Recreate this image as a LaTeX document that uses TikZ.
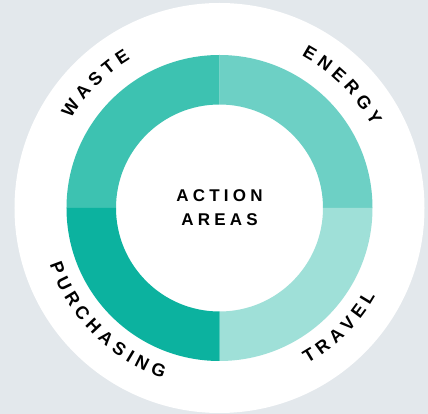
\documentclass[tikz,border=0pt]{standalone}
\usepackage{fontspec}
\setmainfont{Liberation Sans}
\usepackage{tikz}
\usetikzlibrary{decorations.text}
\definecolor{backgray}{HTML}{E3E8EC}
\definecolor{wastecol}{HTML}{3DC2B1}
\definecolor{energycol}{HTML}{6DD0C5}
\definecolor{travelcol}{HTML}{9FE0D8}
\definecolor{purchcol}{HTML}{0CB29F}
\newcommand{\trk}{\kern4.2pt}
\newcommand{\areafont}{\bfseries\fontsize{17}{24}\selectfont}
\newcommand{\ringfont}{\bfseries\fontsize{18}{24}\selectfont}
\tikzstyle{centretext}=[align=center, inner sep=0pt, font=\areafont]
\tikzstyle{ringlabel}=[decorate, decoration={text along path, text align=center}]

\begin{document}
\begin{tikzpicture}[x=1pt, y=1pt]
    % background and the white disc
    \fill[backgray] (-219.5,-206) rectangle (208.5,208);
    \useasboundingbox (-219.5,-206) rectangle (208.5,208);
    \fill[white] (0,0) circle[radius=205];

    % the four quarters of the ring, using a loop
    \foreach \a/\c in {90/wastecol, 0/energycol, 270/travelcol, 180/purchcol}{
      \fill[\c] (\a:153) arc[start angle=\a, end angle=\a+90, radius=153]
        -- (\a+90:103.5) arc[start angle=\a+90, end angle=\a, radius=103.5] -- cycle;
    }

    % labels round the ring (letters spaced out)
    \foreach \t/\s/\e/\r in {W A S T E/180/90/173, E N E R G Y/90/0/173,
                             T R A V E L/270/360/179, P U R C H A S I N G/180/270/179}{
      \path[ringlabel, decoration={text/.expanded={|\noexpand\ringfont|\t}}]
        (\s:\r) arc[start angle=\s, end angle=\e, radius=\r];
    }

    % centre
    \node[centretext] (centre) at (0,0) {A\trk C\trk T\trk I\trk O\trk N\\A\trk R\trk E\trk A\trk S};
  \end{tikzpicture}
\end{document}
